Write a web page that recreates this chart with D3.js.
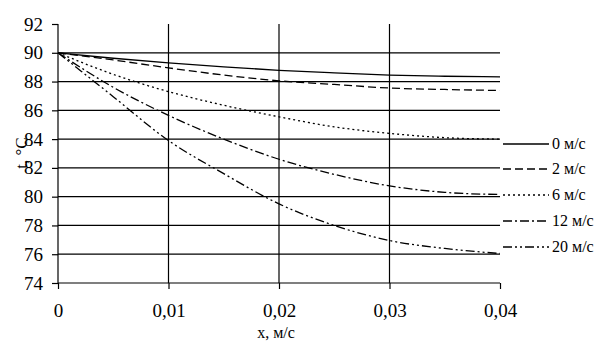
<!DOCTYPE html>
<html>
<head>
<meta charset="utf-8">
<script src="https://cdn.jsdelivr.net/npm/d3@7"></script>
<style>
  body { margin: 0; background: #fff; }
  svg text { font-family: "Liberation Serif", "Times New Roman", Tinos, "DejaVu Serif", serif; }
</style>
</head>
<body>
<svg width="605" height="353"></svg>
<script>
// data
let xs = [0, 0.005, 0.01, 0.015, 0.02, 0.025, 0.03, 0.035, 0.04];
let v0 = [90, 89.62, 89.3, 89.02, 88.78, 88.6, 88.45, 88.37, 88.33];
let v2 = [90, 89.5, 88.95, 88.45, 88.05, 87.8, 87.55, 87.45, 87.38];
let v6 = [90, 88.5, 87.3, 86.35, 85.55, 84.85, 84.4, 84.1, 84.0];
let v12 = [90, 87.6, 85.65, 84.0, 82.6, 81.55, 80.75, 80.3, 80.15];
let v20 = [90, 86.95, 83.9, 81.6, 79.5, 78.0, 76.95, 76.4, 76.05];
let seriesNames = ['0 м/с', '2 м/с', '6 м/с', '12 м/с', '20 м/с'];
let yTicks = [74, 76, 78, 80, 82, 84, 86, 88, 90, 92];
let xTicks = [0, 0.01, 0.02, 0.03, 0.04];

let series = [v0, v2, v6, v12, v20];
let dashes = ['none', '8,4', '2,3', '9,3,2,3', '9,3,2,3,2,3'];

let svg = d3.select('svg');

let padLeft = 58, padRight = 500, padTop = 24, padBottom = 283;

let xScale = d3.scaleLinear().domain([0, 0.04]).range([padLeft, padRight]);
let yScale = d3.scaleLinear().domain([74, 92]).range([padBottom, padTop]);

let fmt = (d) => d === 0 ? '0' : d3.format('.2f')(d).replace('.', ',');

// horizontal gridlines
svg.append('g')
  .selectAll('line')
  .data(yTicks.filter(d => d > 74 && d < 92))
  .enter()
  .append('line')
  .attr('x1', padLeft).attr('x2', padRight)
  .attr('y1', d => yScale(d)).attr('y2', d => yScale(d))
  .attr('stroke', '#000').attr('stroke-width', 1.2);

// vertical gridlines
svg.append('g')
  .selectAll('line')
  .data(xTicks.filter(d => d > 0 && d < 0.04))
  .enter()
  .append('line')
  .attr('x1', d => xScale(d)).attr('x2', d => xScale(d))
  .attr('y1', padTop).attr('y2', padBottom)
  .attr('stroke', '#000').attr('stroke-width', 1.2);

// axes
let yAxis = d3.axisLeft(yScale).tickValues(yTicks).tickSize(6).tickPadding(9).tickFormat(d => d);
let xAxis = d3.axisBottom(xScale).tickValues(xTicks).tickSize(6).tickPadding(15).tickFormat(fmt);

let gy = svg.append('g')
  .attr('transform', 'translate(' + padLeft + ',0)')
  .call(yAxis);
let gx = svg.append('g')
  .attr('transform', 'translate(0,' + padBottom + ')')
  .call(xAxis);

gy.select('.domain').attr('d', 'M0,' + padTop + 'V' + padBottom);
gx.select('.domain').attr('d', 'M' + padLeft + ',0H' + padRight);

[gx, gy].forEach(g => {
  g.attr('font-family', null);
  g.select('.domain').attr('stroke', '#000').attr('stroke-width', 1.2);
  g.selectAll('.tick line').attr('stroke', '#000').attr('stroke-width', 1.2);
  g.selectAll('.tick text')
    .attr('fill', '#000')
    .style('font-size', '19px');
});

// lines
let line = d3.line()
  .x((d, i) => xScale(xs[i]))
  .y(d => yScale(d))
  .curve(d3.curveMonotoneX);

svg.append('g')
  .selectAll('path')
  .data(series)
  .enter()
  .append('path')
  .attr('d', d => line(d))
  .attr('fill', 'none')
  .attr('stroke', '#000')
  .attr('stroke-width', 1.3)
  .attr('stroke-dasharray', (d, i) => dashes[i]);

// legend
let legendY = [144, 169, 195, 221, 247];
let legend = svg.append('g')
  .selectAll('g')
  .data(seriesNames)
  .enter()
  .append('g')
  .attr('transform', (d, i) => 'translate(503,' + legendY[i] + ')');

legend.append('line')
  .attr('x1', 0).attr('x2', 46)
  .attr('stroke', '#000').attr('stroke-width', 1.3)
  .attr('stroke-dasharray', (d, i) => dashes[i]);

legend.append('text')
  .attr('x', 49)
  .attr('y', 5)
  .style('font-size', '16px')
  .text(d => d);

// axis titles
svg.append('text')
  .attr('x', 276)
  .attr('y', 338)
  .attr('text-anchor', 'middle')
  .style('font-size', '16px')
  .text('x, м/с');

svg.append('text')
  .attr('transform', 'translate(27,153) rotate(-90)')
  .attr('text-anchor', 'middle')
  .style('font-size', '17px')
  .text('t, °C');
</script>
</body>
</html>
